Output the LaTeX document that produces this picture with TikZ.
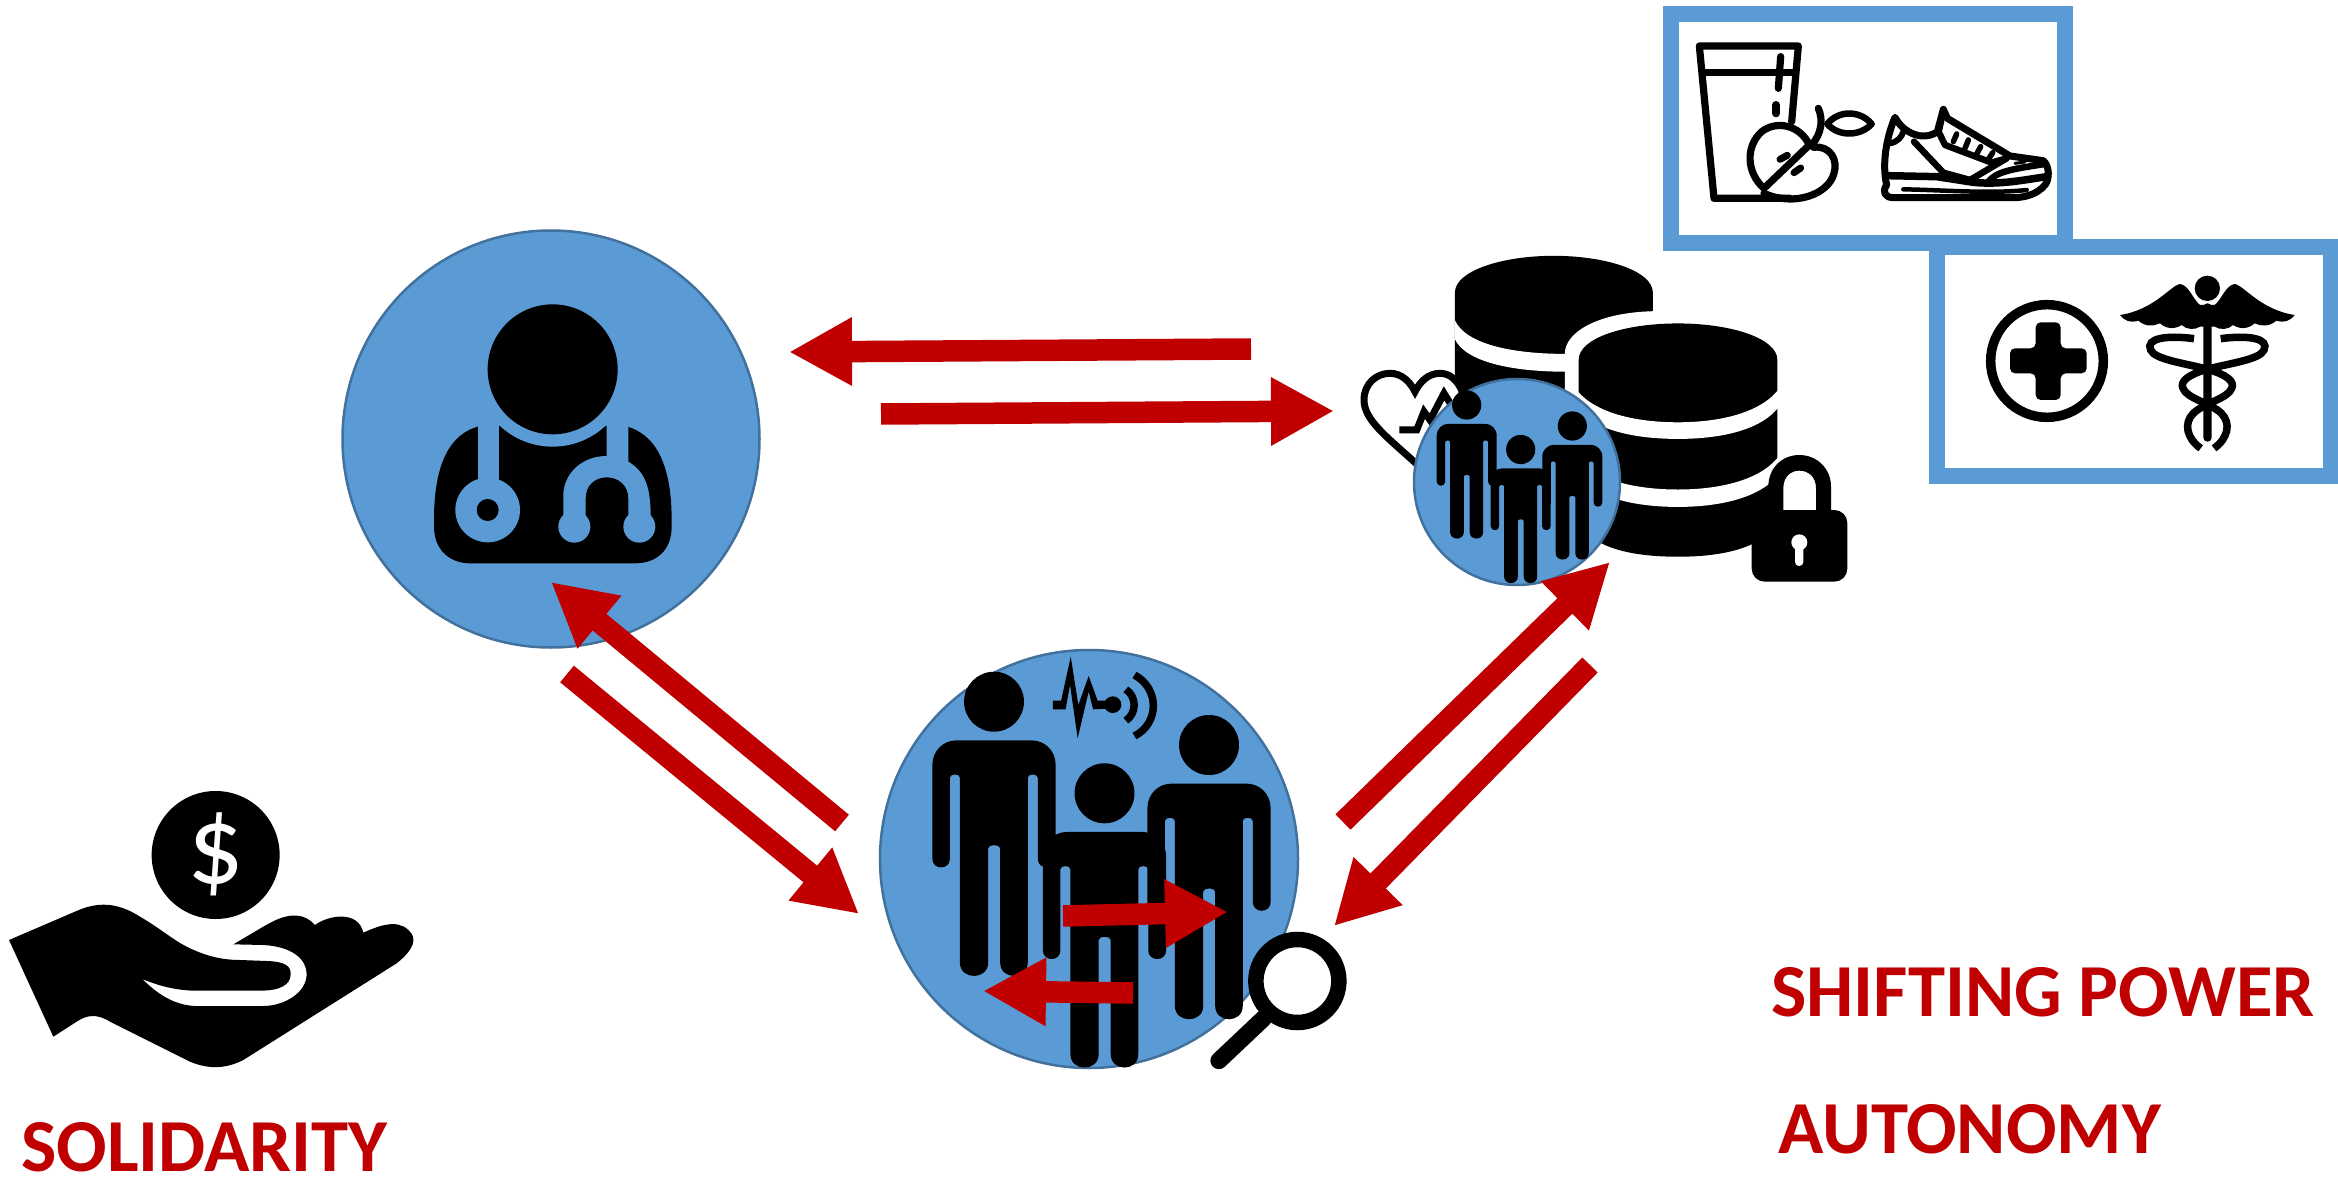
\documentclass[tikz,border=0pt]{standalone}
\usepackage{fontspec}
\setmainfont{Carlito}
\usetikzlibrary{arrows.meta}
\definecolor{discblue}{HTML}{5B9BD5}
\definecolor{discedge}{HTML}{41719C}
\definecolor{powerred}{HTML}{C00000}
\tikzset{
  bluedisc/.style={circle,fill=discblue,draw=discedge,line width=2.5pt,inner sep=0pt},
  bluebox/.style={draw=discblue,line width=16pt,fill=white},
  redarrow/.style={draw=powerred,line width=21.5pt,-{Triangle[length=63pt,width=64pt]}},
  label/.style={text=powerred,font=\bfseries\fontsize{74.8}{80}\selectfont,anchor=base west,inner sep=0pt},
  zone/.style={shift={(1300,0)},xscale=0.6620,yscale=0.3954},
  ztwo/.style={shift={(300,200)},scale=0.33333},
  zthree/.style={shift={(840,630)},xscale=0.34440,yscale=0.33333},
  zfour/.style={shift={(0,770)},scale=0.33333},
  zfood/.style={shift={(1690,30)},scale=0.33333},
  zcare/.style={shift={(1970,260)},scale=0.33333},
  zheart/.style={shift={(1350,340)},scale=0.33333},
  zlock/.style={shift={(1700,430)},scale=0.33333},
  thinicon/.style={draw=black,line width=7.2pt,line cap=round,line join=round},
}
\newcommand{\personglyph}[3]{%
  \begin{scope}[shift={(#1,#2)},xscale=0.3444*#3,yscale=0.33333*#3]
    \fill[black] (0,0) circle [x radius=87pt,y radius=90pt];
    \fill[black] (-179,190) .. controls (-179,145) and (-145,116) .. (-110,116)
      -- (110,116) .. controls (145,116) and (179,145) .. (179,190)
      -- (179,471) .. controls (179,506) and (127,506) .. (127,471)
      -- (127,228) .. controls (127,215) and (98,215) .. (98,228)
      -- (98,783) .. controls (98,836) and (18,836) .. (18,783)
      -- (18,440) .. controls (18,427) and (-17,427) .. (-17,440)
      -- (-17,783) .. controls (-17,836) and (-99,836) .. (-99,783)
      -- (-99,228) .. controls (-99,215) and (-128,215) .. (-128,228)
      -- (-128,471) .. controls (-128,506) and (-179,506) .. (-179,471) -- cycle;
  \end{scope}}
\begin{document}
\begin{tikzpicture}[x=1pt,y=-1pt]
\useasboundingbox (0,0) rectangle (2338,1182);
\fill[white] (0,0) rectangle (2338,1182);

% named arrow ends
\coordinate (a1s) at (1251,349); \coordinate (a1e) at (789,352);
\coordinate (a2s) at (881,414);  \coordinate (a2e) at (1334,411);
\coordinate (a3s) at (842,823);  \coordinate (a3e) at (551,582);
\coordinate (a4s) at (567,674);  \coordinate (a4e) at (859,914);
\coordinate (a5s) at (1343,822); \coordinate (a5e) at (1610,562);
\coordinate (a6s) at (1590,665); \coordinate (a6e) at (1334,926);
\coordinate (a7s) at (1063,916); \coordinate (a7e) at (1228,912);
\coordinate (a8s) at (1133,993); \coordinate (a8e) at (983,991);

% boxes
\node[bluebox,minimum width=394pt,minimum height=229pt,inner sep=0pt] (foodbox) at (1868,128.5) {};
\node[bluebox,minimum width=394pt,minimum height=229pt,inner sep=0pt] (carebox) at (2134,361.5) {};

% food
\begin{scope}[zfood]
  \draw[thinicon] (305,275) -- (325,48) -- (28,48) -- (72,505) -- (300,505);
  \draw[thinicon] (40,127) -- (310,127);
  \draw[thinicon] (272,80) -- (265,175);
  \draw[thinicon,line width=8pt] (258,225) -- (258,250);
  % apple
  \draw[thinicon] (222,475) .. controls (170,430) and (165,350) .. (215,305) .. controls (260,270) and (330,285) .. (358,345) -- cycle;
  \draw[thinicon] (370,352) .. controls (420,345) and (445,390) .. (432,430) .. controls (415,495) and (310,530) .. (222,490);
  \draw[thinicon] (385,235) .. controls (400,270) and (395,310) .. (365,345);
  \draw[thinicon,line width=6.5pt] (412,282) .. controls (445,240) and (510,240) .. (545,282) .. controls (510,320) and (445,320) .. (412,282) -- cycle;
  \draw[thinicon,line width=7pt] (270,388) -- (292,376);
  \draw[thinicon,line width=7pt] (312,428) -- (332,414);
  % shoe
  \draw[thinicon,line width=7pt] (615,262) .. controls (640,310) and (700,335) .. (742,305) -- (760,238) -- (772,265) -- (960,378) -- (1060,392) .. controls (1080,410) and (1078,450) .. (1065,465) .. controls (1040,495) and (1000,503) .. (970,503) -- (610,503) .. controls (585,503) and (575,485) .. (590,465) .. controls (575,400) and (590,320) .. (615,262) -- cycle;
  \draw[thinicon,line width=6pt] (600,340) .. controls (625,335) and (635,320) .. (640,305);
  \draw[thinicon,line width=7.5pt] (590,437) -- (740,440) -- (850,457) .. controls (930,465) and (1000,450) .. (1070,440);
  \draw[thinicon,line width=4.5pt] (640,478) .. controls (760,480) and (900,492) .. (1010,480);
  \draw[thinicon,line width=6.5pt] (672,335) -- (760,428) -- (840,450);
  \draw[thinicon,line width=6.5pt] (748,310) -- (765,345) -- (905,398) -- (950,385) -- (840,450);
  \draw[thinicon,line width=6pt] (755,268) -- (748,300);
  \draw[thinicon,line width=5.5pt] (800,312) -- (790,335) (835,330) -- (825,355) (872,350) -- (860,372) (908,368) -- (895,388);
  \draw[thinicon,line width=6.5pt] (895,455) .. controls (920,425) and (960,418) .. (1065,402);
  \draw[thinicon,line width=3pt] (975,400) -- (1005,396);
\end{scope}

% care icons
\begin{scope}[zcare]
  \draw[black,line width=9.5pt] (231,303) circle [radius=169pt];
  \fill[black,rounded corners=5pt] (197,187) -- (272,187) -- (272,265) -- (350,265) -- (350,340) -- (272,340) -- (272,420) -- (197,420) -- (197,340) -- (120,340) -- (120,265) -- (197,265) -- cycle;
  \fill[black] (712,85) circle [radius=38pt];
  \fill[black] (690,135) .. controls (670,120) and (655,72) .. (628,72) .. controls (600,80) and (550,150) .. (450,165)
    .. controls (460,180) and (480,190) .. (505,182) .. controls (525,200) and (550,200) .. (570,190) .. controls (590,208) and (615,208) .. (635,195) .. controls (650,210) and (675,210) .. (690,200) -- (734,200)
    .. controls (749,210) and (774,210) .. (789,195) .. controls (809,208) and (834,208) .. (854,190) .. controls (874,200) and (899,200) .. (919,182) .. controls (944,190) and (964,180) .. (974,165)
    .. controls (874,150) and (824,80) .. (796,72) .. controls (769,72) and (754,120) .. (734,135) -- cycle;
  \fill[black,rounded corners=4pt] (700,130) rectangle (725,545);
  \draw[black,line width=7.5pt] (672,236) .. controls (590,225) and (525,235) .. (542,270) .. controls (555,300) and (650,310) .. (720,330) .. controls (770,345) and (795,365) .. (785,385) .. controls (775,415) and (700,430) .. (670,460) .. controls (640,490) and (650,535) .. (692,565);
  \draw[black,line width=7.5pt] (752,236) .. controls (834,225) and (899,235) .. (882,270) .. controls (869,300) and (774,310) .. (704,330) .. controls (654,345) and (629,365) .. (639,385) .. controls (649,415) and (724,430) .. (754,460) .. controls (784,490) and (774,535) .. (732,565);
\end{scope}

% databases
\begin{scope}[zone]
  \fill[black] (234,740) .. controls (234,685) and (305,647) .. (383,647) .. controls (462,647) and (533,685) .. (533,740) -- (533,1100) -- (234,1100) -- cycle;
  \fill[white] (234,810) .. controls (250,870) and (320,895) .. (400,895) -- (400,940) .. controls (320,940) and (250,915) .. (234,858) -- cycle;
  \fill[white] (400,1120) -- (400,895) .. controls (400,840) and (450,790) .. (535,787) -- (740,787) -- (740,1120) -- cycle;
  \fill[black] (421,910) .. controls (421,855) and (490,818) .. (571,818) .. controls (650,818) and (721,855) .. (721,910) -- (721,1320) .. controls (700,1385) and (640,1408) .. (571,1408) .. controls (500,1408) and (440,1385) .. (421,1320) -- cycle;
  \fill[white] (415,980) .. controls (440,1040) and (500,1068) .. (571,1068) .. controls (640,1068) and (700,1040) .. (725,980) -- (725,1025) .. controls (700,1085) and (640,1110) .. (571,1110) .. controls (500,1110) and (440,1085) .. (415,1025) -- cycle;
  \fill[white] (415,1150) .. controls (440,1210) and (500,1238) .. (571,1238) .. controls (640,1238) and (700,1210) .. (725,1150) -- (725,1195) .. controls (700,1255) and (640,1282) .. (571,1282) .. controls (500,1282) and (440,1255) .. (415,1195) -- cycle;
\end{scope}
% heart
\begin{scope}[zheart]
  \draw[black,fill=white,line width=7pt] (200,372) .. controls (110,290) and (42,240) .. (42,180) .. controls (42,130) and (80,100) .. (120,100) .. controls (155,100) and (180,125) .. (195,155) .. controls (210,125) and (235,100) .. (270,100) .. controls (300,100) and (320,120) .. (335,150) -- (350,300) -- cycle;
  \draw[black,line width=7pt,line join=miter] (148,270) -- (200,270) -- (222,215) -- (240,240) -- (282,160) -- (310,205);
\end{scope}
% lock
\begin{scope}[zlock]
  \fill[black] (205,250) -- (205,170) .. controls (205,115) and (245,75) .. (298,75) .. controls (350,75) and (393,115) .. (393,170) -- (393,250) -- (348,250) -- (348,175) .. controls (348,140) and (325,122) .. (298,122) .. controls (272,122) and (250,140) .. (250,175) -- (250,250) -- cycle;
  \fill[black,rounded corners=13pt] (155,240) rectangle (442,455);
  \fill[white] (298,337) circle [radius=24pt];
  \fill[white,rounded corners=4pt] (285,345) rectangle (310,408);
\end{scope}

% circles
\node[bluedisc,minimum size=417pt] (doctor) at (551,439) {};
\node[bluedisc,minimum size=418pt] (patients) at (1089,859) {};
\node[bluedisc,minimum size=206pt] (dataset) at (1517,482) {};

% doctor icon
\begin{scope}[ztwo]
  \fill[black] (540,678) .. controls (450,700) and (402,790) .. (402,960) -- (402,980) .. controls (402,1050) and (450,1090) .. (510,1090) -- (1005,1090) .. controls (1070,1090) and (1115,1050) .. (1115,980) -- (1115,960) .. controls (1115,790) and (1065,700) .. (975,678) -- cycle;
  \fill[discblue] (758,508) circle [radius=232pt];
  \fill[black] (758,508) circle [radius=195pt];
  \fill[discblue] (533,670) rectangle (597,850);
  \fill[discblue] (563,930) circle [radius=97pt];
  \fill[black] (563,930) circle [radius=33pt];
  \fill[discblue] (920,670) -- (985,670) -- (985,785) .. controls (1035,815) and (1052,860) .. (1052,950) -- (985,950) -- (985,895) .. controls (985,855) and (955,832) .. (920,832) .. controls (885,832) and (857,855) .. (857,895) -- (857,950) -- (790,950) -- (790,880) .. controls (795,815) and (850,768) .. (920,768) -- cycle;
  \fill[discblue] (823,980) circle [radius=48pt];
  \fill[discblue] (1018,980) circle [radius=48pt];
\end{scope}

% patients
\personglyph{994}{701.7}{1}
\personglyph{1104.5}{793.3}{1}
\personglyph{1209}{745}{1}
\begin{scope}[zthree]
  \fill[black] (618,212) -- (642,212) -- (670,80) -- (692,225) -- (722,138) -- (748,212) -- (775,212) -- (775,236) -- (735,238) -- (722,185) -- (690,325) -- (668,165) -- (655,238) -- (618,238) -- cycle;
  \fill[black] (792,224) circle [x radius=25pt,y radius=25pt];
  \draw[black,line width=7.5pt] (830,178) .. controls (862,200) and (862,250) .. (830,272);
  \draw[black,line width=7.5pt] (855,135) .. controls (928,175) and (928,280) .. (855,318);
\end{scope}

% data group
\personglyph{1466.7}{405}{0.487}
\personglyph{1520.7}{449.5}{0.487}
\personglyph{1572.3}{426}{0.487}

% arrows
\draw[redarrow] (a1s) -- (a1e);
\draw[redarrow] (a2s) -- (a2e);
\draw[redarrow] (a3s) -- (a3e);
\draw[redarrow] (a4s) -- (a4e);
\draw[redarrow] (a5s) -- (a5e);
\draw[redarrow] (a6s) -- (a6e);
\draw[redarrow] (a7s) -- (a7e);
\draw[redarrow] (a8s) -- (a8e);

% magnifier
\begin{scope}[zthree]
  \draw[black,line width=17pt,line cap=round] (1230,1165) -- (1100,1292);
  \draw[black,fill=white,line width=15.5pt] (1328,1053) circle [x radius=120.5pt,y radius=124.5pt];
\end{scope}

% hand and coin
\begin{scope}[zfour]
  \fill[black] (27,510) -- (225,425) .. controls (290,395) and (350,395) .. (420,440)
    .. controls (480,475) and (520,510) .. (560,530) .. controls (620,560) and (670,570) .. (720,570)
    -- (800,573) .. controls (860,575) and (872,590) .. (872,612) .. controls (872,645) and (840,662) .. (780,662)
    -- (580,662) .. controls (520,660) and (470,645) .. (427,627)
    .. controls (470,670) and (520,705) .. (585,708) -- (790,708)
    .. controls (850,708) and (920,670) .. (920,612) .. controls (920,570) and (880,530) .. (790,525)
    -- (700,523) -- (790,470) .. controls (840,440) and (900,415) .. (945,465)
    .. controls (985,435) and (1075,420) .. (1090,488) .. controls (1130,470) and (1190,445) .. (1225,480)
    .. controls (1255,505) and (1240,540) .. (1190,580) -- (730,870)
    .. controls (680,895) and (630,900) .. (570,875) -- (330,755)
    .. controls (290,730) and (260,735) .. (230,755) -- (160,800) -- cycle;
  \node[circle,fill=black,minimum size=128pt,inner sep=0pt] (coin) at (647,255) {};
\end{scope}
\node[text=white,inner sep=0pt,font=\fontsize{112}{112}\selectfont] (dollar) at ([yshift=1pt]coin) {\$};

% labels
\node[label] (solidarity) at (21,1171) {SOLIDARITY};
\node[label] (shifting) at (1771,1016) {SHIFTING POWER};
\node[label] (autonomy) at (1778,1153) {AUTONOMY};
\end{tikzpicture}
\end{document}
